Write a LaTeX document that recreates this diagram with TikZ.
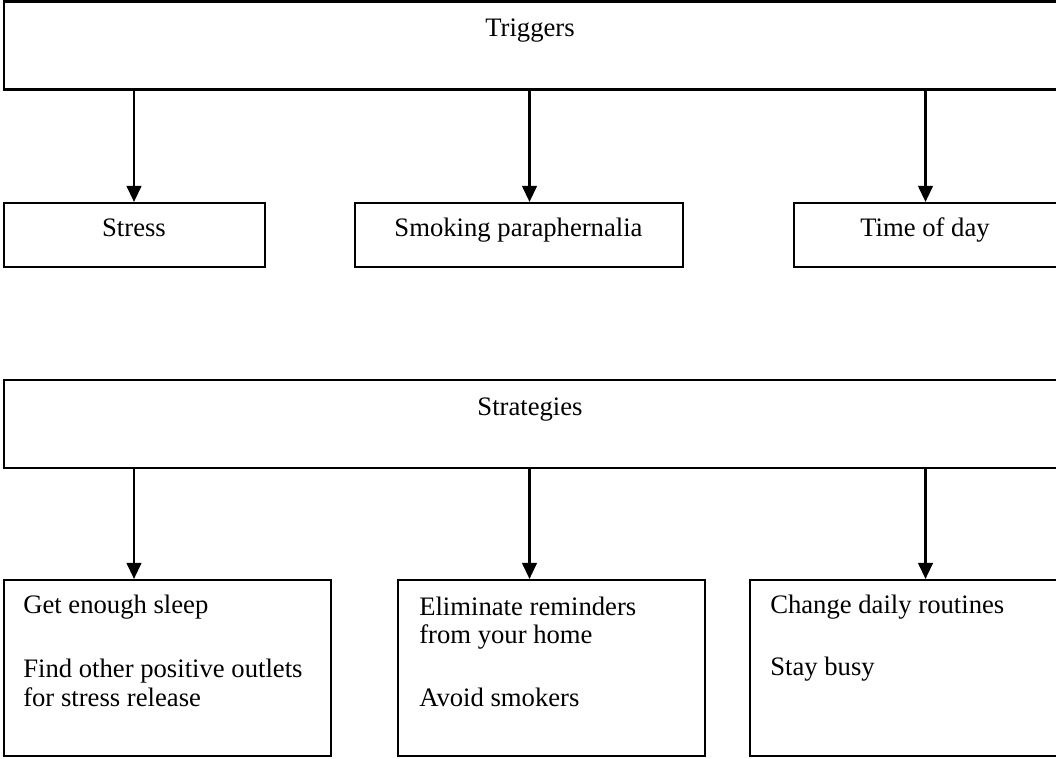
\documentclass[tikz,border=0pt]{standalone}
\usepackage{fontspec}
\setmainfont{Liberation Serif}
\usetikzlibrary{arrows.meta}
\tikzset{
  boxnode/.style={draw=black, line width=1.6pt, rectangle, inner sep=0pt, fill=white},
  txt/.style={font=\fontsize{20}{21.75}\selectfont, inner sep=0pt, anchor=base},
  ltxt/.style={font=\fontsize{20}{21.75}\selectfont, inner sep=0pt, anchor=base west},
  arr/.style={line width=1.6pt, -{Triangle[length=12pt,width=11pt]}}
}
\begin{document}
\begin{tikzpicture}[x=0.75pt,y=-0.75pt]
\clip (0,0) rectangle (1056,759);
\fill[white] (0,0) rectangle (1056,759);
% top row
\node[boxnode, minimum width=799.5pt, minimum height=66pt] (trig) at (537,45.5) {};
\node[txt] (trigt) at (530,37) {Triggers};
\node[boxnode, minimum width=195.75pt, minimum height=48pt] (stress) at (134.5,235) {};
\node[txt] (stresst) at (134,237) {Stress};
\node[boxnode, minimum width=246pt, minimum height=48pt] (smok) at (519,235) {};
\node[txt] (smokt) at (518.5,237) {Smoking paraphernalia};
\node[boxnode, minimum width=207pt, minimum height=48pt] (time) at (932,235) {};
\node[txt] (timet) at (925,237) {Time of day};
% strategies
\node[boxnode, minimum width=799.5pt, minimum height=66pt] (strat) at (537,424) {};
\node[txt] (stratt) at (530,415) {Strategies};
\node[boxnode, minimum width=245.25pt, minimum height=132pt] (bl) at (167.5,668) {};
\node[boxnode, minimum width=230.25pt, minimum height=132pt] (bm) at (551.5,668) {};
\node[boxnode, minimum width=240pt, minimum height=132pt] (br) at (910,668) {};
\node[ltxt] (bl1) at (23,613) {Get enough sleep};
\node[ltxt] (bl2) at (23,677) {Find other positive outlets};
\node[ltxt] (bl3) at (23,706) {for stress release};
\node[ltxt] (bm1) at (419,615) {Eliminate reminders};
\node[ltxt] (bm2) at (419,643) {from your home};
\node[ltxt] (bm3) at (419,706) {Avoid smokers};
\node[ltxt] (br1) at (770,613) {Change daily routines};
\node[ltxt] (br2) at (770,675) {Stay busy};
% arrow columns
\coordinate (c1) at (134,0);
\coordinate (c2) at (529.5,0);
\coordinate (c3) at (925.5,0);
\draw[arr] (trig.south -| c1) -- (stress.north -| c1);
\draw[arr] (trig.south -| c2) -- (smok.north -| c2);
\draw[arr] (trig.south -| c3) -- (time.north -| c3);
\draw[arr] (strat.south -| c1) -- (bl.north -| c1);
\draw[arr] (strat.south -| c2) -- (bm.north -| c2);
\draw[arr] (strat.south -| c3) -- (br.north -| c3);
\end{tikzpicture}
\end{document}
